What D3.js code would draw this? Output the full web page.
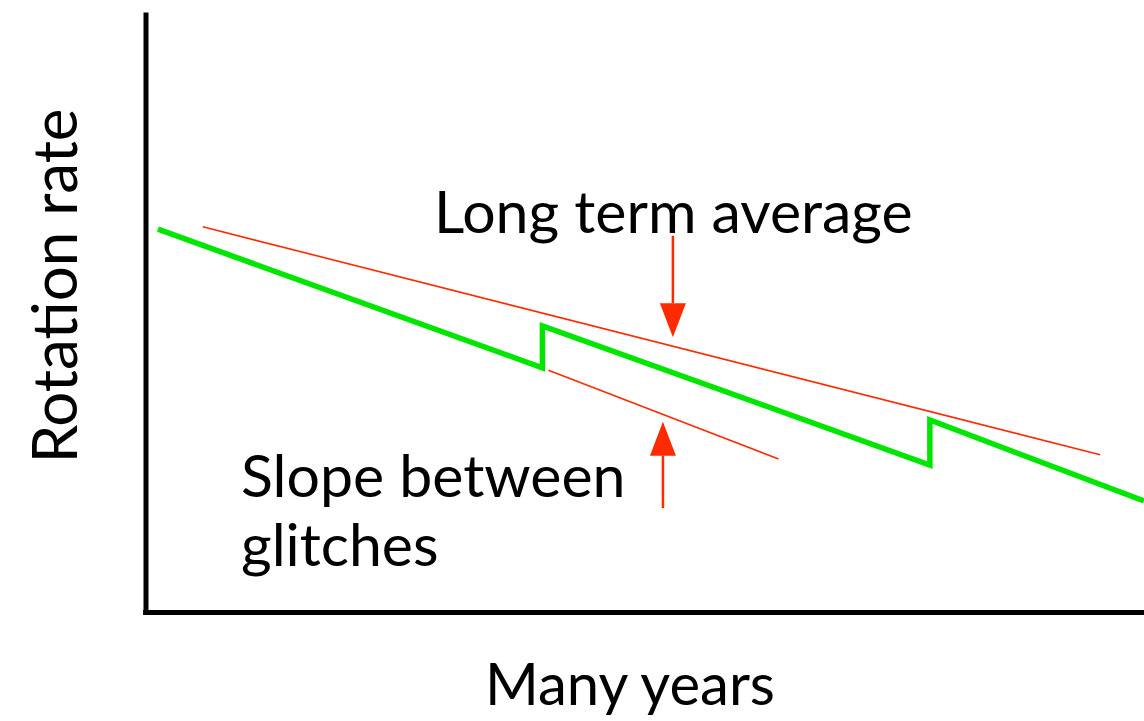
<!DOCTYPE html>
<html>
<head>
<meta charset="utf-8">
<script src="https://cdn.jsdelivr.net/npm/d3@7"></script>
<style>
  body { margin: 0; background: #fff; }
  text { font-family: Lato, "Open Sans", sans-serif; fill: #000; }
</style>
</head>
<body>
<svg></svg>
<script>
// values, x = years (0..100), y = rotation rate (0..100)
var spinX = [1.0, 39.6, 39.6, 78.5, 78.5, 100];
var spinY = [63.8, 40.7, 47.7, 24.5, 32.0, 18.5];

var avgX = [5.5, 95.6];
var avgY = [64.2, 26.2];

var slopeX = [40.2, 63.3];
var slopeY = [40.3, 25.5];

// arrows: [x, y from, y to (tip)]
var arrowDown = [52.7, 62.7, 45.8];
var arrowUp = [51.7, 17.3, 31.7];

var labels = ["Long term average", "Slope between", "glitches"];

var draw = function() {

	var width = 1144,
		height = 721;

	var svg = d3.select("svg")
		.attr("width", width)
		.attr("height", height);

	var x = d3.scaleLinear().domain([0, 100]).range([148, 1144]);
	var y = d3.scaleLinear().domain([0, 100]).range([612, 12]);

	// axes, no ticks
	var yAxis = svg.append("g")
		.attr("transform", "translate(145.5,0)")
		.call(d3.axisLeft(y).ticks(0).tickSizeOuter(0));
	yAxis.select(".domain").attr("stroke", "#000").attr("stroke-width", 5);

	var xAxis = svg.append("g")
		.attr("transform", "translate(0,612.5)")
		.call(d3.axisBottom(x).ticks(0).tickSizeOuter(0));
	xAxis.select(".domain").attr("stroke", "#000").attr("stroke-width", 5)
		.attr("d", "M143,0H1144");

	var line = d3.line()
		.x(function(d) { return x(d[0]); })
		.y(function(d) { return y(d[1]); });

	// red reference lines
	svg.append("path")
		.datum(d3.zip(avgX, avgY))
		.attr("d", line)
		.attr("fill", "none")
		.attr("stroke", "#ff2a00")
		.attr("stroke-width", 1.6);

	svg.append("path")
		.datum(d3.zip(slopeX, slopeY))
		.attr("d", line)
		.attr("fill", "none")
		.attr("stroke", "#ff2a00")
		.attr("stroke-width", 1.6);

	// green spin-down line
	svg.append("path")
		.datum(d3.zip(spinX, spinY))
		.attr("d", line)
		.attr("fill", "none")
		.attr("stroke", "#00e600")
		.attr("stroke-width", 5.5)
		.attr("stroke-linejoin", "miter");

	// arrows
	[arrowDown, arrowUp].forEach(function(a) {
		var ax = x(a[0]),
			y0 = y(a[1]),
			tip = y(a[2]),
			dir = tip > y0 ? 1 : -1,
			headLen = 34,
			headW = 13;
		svg.append("line")
			.attr("x1", ax).attr("x2", ax)
			.attr("y1", y0).attr("y2", tip - dir * headLen)
			.attr("stroke", "#ff2a00")
			.attr("stroke-width", 2.5);
		svg.append("path")
			.attr("d", "M" + (ax - headW) + "," + (tip - dir * headLen) +
				"L" + (ax + headW) + "," + (tip - dir * headLen) +
				"L" + ax + "," + tip + "Z")
			.attr("fill", "#ff2a00");
	});

	// annotations
	var fs = 59;
	svg.append("text")
		.attr("x", 434).attr("y", 233)
		.attr("font-size", fs)
		.text(labels[0]);

	svg.append("text")
		.attr("x", 241).attr("y", 497)
		.attr("font-size", fs)
		.text(labels[1]);

	svg.append("text")
		.attr("x", 241).attr("y", 566)
		.attr("font-size", fs)
		.text(labels[2]);

	// axis titles
	svg.append("text")
		.attr("text-anchor", "middle")
		.attr("transform", "translate(77,286) rotate(-90)")
		.attr("font-size", 62)
		.text("Rotation rate");

	svg.append("text")
		.attr("text-anchor", "middle")
		.attr("x", 630).attr("y", 705)
		.attr("font-size", 58)
		.text("Many years");
};

draw();
</script>
</body>
</html>
